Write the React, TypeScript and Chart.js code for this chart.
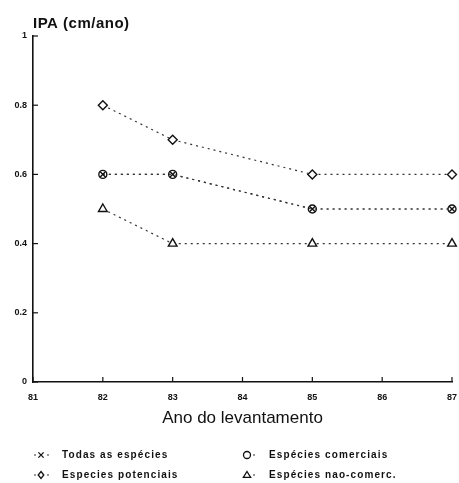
import React, { useEffect, useRef } from 'react';
import { Chart, registerables } from 'chart.js';

Chart.register(...registerables);

const years = [82, 83, 85, 87];
const todasValues = [0.6, 0.6, 0.5, 0.5];
const comerciaisValues = [0.6, 0.6, 0.5, 0.5];
const potenciaisValues = [0.8, 0.7, 0.6, 0.6];
const naoComercValues = [0.5, 0.4, 0.4, 0.4];
const xTickValues = [81, 82, 83, 84, 85, 86, 87];
const xTickLabels = ['81', '82', '83', '84', '85', '86', '87'];
const yTickValues = [0, 0.2, 0.4, 0.6, 0.8, 1];
const yTickLabels = ['0', '0.2', '0.4', '0.6', '0.8', '1'];
const seriesLabels = ['Todas as espécies', 'Especies potenciais', 'Espécies comerciais', 'Espécies nao-comerc.'];
const yTitle = 'IPA (cm/ano)';
const xTitle = 'Ano do levantamento';

const INK = '#111';
const LINE = '#333';

function drawMarker(ctx: CanvasRenderingContext2D, style: string, x: number, y: number, r: number) {
  ctx.save();
  ctx.strokeStyle = INK;
  ctx.fillStyle = '#fff';
  ctx.lineWidth = 1.3;
  ctx.beginPath();
  if (style === 'crossRot') {
    const d = r * 0.75;
    ctx.moveTo(x - d, y - d); ctx.lineTo(x + d, y + d);
    ctx.moveTo(x + d, y - d); ctx.lineTo(x - d, y + d);
    ctx.stroke();
  } else if (style === 'rectRot') {
    ctx.moveTo(x, y - r); ctx.lineTo(x + r * 0.8, y); ctx.lineTo(x, y + r); ctx.lineTo(x - r * 0.8, y); ctx.closePath();
    ctx.fill(); ctx.stroke();
  } else if (style === 'circle') {
    ctx.arc(x, y, r, 0, Math.PI * 2);
    ctx.fill(); ctx.stroke();
  } else if (style === 'triangle') {
    ctx.moveTo(x, y - r); ctx.lineTo(x + r * 1.05, y + r * 0.7); ctx.lineTo(x - r * 1.05, y + r * 0.7); ctx.closePath();
    ctx.fill(); ctx.stroke();
  }
  ctx.restore();
}

const decorPlugin = {
  id: 'decor',
  afterDraw(chart: any) {
    const ctx: CanvasRenderingContext2D = chart.ctx;
    const xs = chart.scales.x;
    const ys = chart.scales.y;
    const area = chart.chartArea;
    ctx.save();
    // inward ticks
    ctx.strokeStyle = INK;
    ctx.lineWidth = 1.2;
    xTickValues.forEach((v) => {
      const px = xs.getPixelForValue(v);
      ctx.beginPath();
      ctx.moveTo(px, area.bottom);
      ctx.lineTo(px, area.bottom - 5);
      ctx.stroke();
    });
    yTickValues.forEach((v) => {
      const py = ys.getPixelForValue(v);
      ctx.beginPath();
      ctx.moveTo(area.left, py);
      ctx.lineTo(area.left + 5, py);
      ctx.stroke();
    });
    // y title (top-left)
    ctx.fillStyle = INK;
    ctx.font = 'bold 15px "Liberation Sans", Arial, sans-serif';
    ctx.textAlign = 'left';
    ctx.textBaseline = 'alphabetic';
    (ctx as any).letterSpacing = '0.5px';
    ctx.fillText(yTitle, area.left, 28);
    (ctx as any).letterSpacing = '0px';
    // x title
    ctx.font = '17px "Liberation Sans", Arial, sans-serif';
    ctx.textAlign = 'center';
    ctx.fillText(xTitle, (area.left + area.right) / 2, 423);
    // legend
    const datasets = chart.data.datasets;
    const order = [0, 1, 2, 3];
    const slots = [
      { mx: 41, tx: 62, y: 455, leftDash: true },
      { mx: 41, tx: 62, y: 475, leftDash: true },
      { mx: 247, tx: 269, y: 455, leftDash: false },
      { mx: 247, tx: 269, y: 475, leftDash: false },
    ];
    ctx.font = 'bold 10px "Liberation Sans", Arial, sans-serif';
    (ctx as any).letterSpacing = '1.1px';
    ctx.textAlign = 'left';
    ctx.textBaseline = 'middle';
    slots.forEach((s, i) => {
      const ds = datasets[order[i]];
      ctx.strokeStyle = LINE;
      ctx.lineWidth = 1;
      ctx.beginPath();
      if (s.leftDash) { ctx.moveTo(s.mx - 7, s.y); ctx.lineTo(s.mx - 5, s.y); }
      ctx.moveTo(s.mx + 6, s.y); ctx.lineTo(s.mx + 8, s.y);
      ctx.stroke();
      drawMarker(ctx, ds.legendStyle, s.mx, s.y, 3.5);
      ctx.fillStyle = INK;
      ctx.fillText(ds.label, s.tx, s.y + 0.5);
    });
    (ctx as any).letterSpacing = '0px';
    ctx.restore();
  },
};

export default function App() {
  const ref = useRef<HTMLCanvasElement | null>(null);
  useEffect(() => {
    document.body.style.margin = '0';
    const canvas = ref.current;
    if (!canvas) return;
    const mk = (vals: number[]) => years.map((x, i) => ({ x, y: vals[i] }));
    const common = {
      borderColor: LINE,
      borderWidth: 1.2,
      borderDash: [2, 4],
      pointBorderColor: INK,
      pointBackgroundColor: '#fff',
      pointBorderWidth: 1.4,
      tension: 0,
      fill: false,
      clip: false,
    };
    const chart = new Chart(canvas, {
      type: 'line',
      data: {
        datasets: [
          { ...common, label: seriesLabels[0], legendStyle: 'crossRot', data: mk(todasValues), pointStyle: 'crossRot', pointRadius: 4, order: 1 } as any,
          { ...common, label: seriesLabels[1], legendStyle: 'rectRot', data: mk(potenciaisValues), pointStyle: 'rectRot', pointRadius: 4.5 } as any,
          { ...common, label: seriesLabels[2], legendStyle: 'circle', data: mk(comerciaisValues), pointStyle: 'circle', pointRadius: 4, order: 2 } as any,
          { ...common, label: seriesLabels[3], legendStyle: 'triangle', data: mk(naoComercValues), pointStyle: 'triangle', pointRadius: 5 } as any,
        ],
      },
      options: {
        animation: false,
        responsive: false,
        devicePixelRatio: 1,
        layout: { padding: { left: 0, top: 36, right: 7, bottom: 0 } },
        plugins: { legend: { display: false }, title: { display: false }, tooltip: { enabled: false } },
        scales: {
          x: {
            type: 'linear',
            min: 81,
            max: 87,
            offset: false,
            afterFit: (s: any) => { s.height = 101; s.paddingLeft = 0; s.paddingRight = 0; },
            afterBuildTicks: (s: any) => { s.ticks = xTickValues.map((v) => ({ value: v })); },
            grid: { display: false, drawTicks: false },
            border: { display: true, color: INK, width: 1.6 },
            ticks: {
              padding: 10,
              color: INK,
              font: { family: '"Liberation Sans", Arial, sans-serif', size: 9, weight: 'bold' },
              callback: (v: any) => { const i = xTickValues.indexOf(Number(v)); return i >= 0 ? xTickLabels[i] : ''; },
              maxRotation: 0,
              autoSkip: false,
            },
          },
          y: {
            type: 'linear',
            min: 0,
            max: 1,
            afterFit: (s: any) => { s.width = 33; s.paddingTop = 0; s.paddingBottom = 0; },
            afterBuildTicks: (s: any) => { s.ticks = yTickValues.map((v) => ({ value: v })); },
            grid: { display: false, drawTicks: false },
            border: { display: true, color: INK, width: 1.6 },
            ticks: {
              padding: 6,
              color: INK,
              font: { family: '"Liberation Sans", Arial, sans-serif', size: 9, weight: 'bold' },
              callback: (v: any) => { const i = yTickValues.findIndex((t) => Math.abs(t - Number(v)) < 1e-6); return i >= 0 ? yTickLabels[i] : ''; },
              autoSkip: false,
            },
          },
        },
      } as any,
      plugins: [decorPlugin],
    });
    return () => chart.destroy();
  }, []);
  return (
    <div style={{ width: 459, height: 483, background: '#fff' }}>
      <canvas ref={ref} width={459} height={483} style={{ display: 'block' }} />
    </div>
  );
}
